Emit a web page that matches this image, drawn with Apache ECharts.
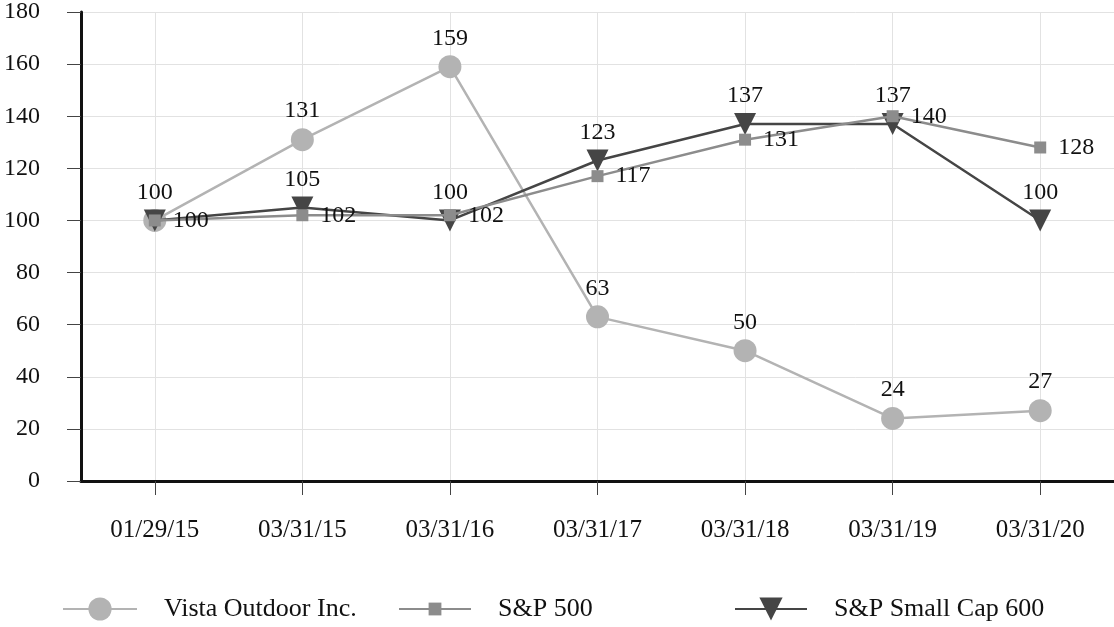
<!DOCTYPE html>
<html>
<head>
<meta charset="utf-8">
<script src="https://cdn.jsdelivr.net/npm/echarts@6/dist/echarts.min.js"></script>
<style>
html,body{margin:0;padding:0;background:#fff;}
#chart{width:1114px;height:627px;}
</style>
</head>
<body>
<div id="chart"></div>
<script>
const categories = ['01/29/15','03/31/15','03/31/16','03/31/17','03/31/18','03/31/19','03/31/20'];
const vista = [100, 131, 159, 63, 50, 24, 27];
const sp500 = [100, 102, 102, 117, 131, 140, 128];
const sp600 = [100, 105, 100, 123, 137, 137, 100];
const yTicks = [0, 20, 40, 60, 80, 100, 120, 140, 160, 180];

const FONT = 'Liberation Serif';
const chart = echarts.init(document.getElementById('chart'));
const legendText = {fontFamily: FONT, fontSize: 26, color: '#111', padding: [0, 0, 0, 22]};
// first Vista label coincides with the Small Cap label; draw it once
const vistaData = vista.map((v, i) => i === 0 ? {value: v, label: {show: false}} : v);
chart.setOption({
  backgroundColor: '#fff',
  animation: false,
  grid: {left: 81, right: 0, top: 11, bottom: 146},
  legend: [
    {data: ['Vista Outdoor Inc.'], left: 62, top: 596, padding: 0, itemWidth: 74, itemHeight: 29, textStyle: legendText},
    {data: ['S&P 500'], left: 398, top: 596, padding: 0, itemWidth: 72, itemHeight: 16, textStyle: legendText},
    {data: ['S&P Small Cap 600'], left: 734, top: 596, padding: 0, itemWidth: 72, itemHeight: 29, textStyle: legendText}
  ],
  xAxis: {
    type: 'category',
    data: categories,
    boundaryGap: true,
    axisLine: {lineStyle: {color: '#111', width: 3}},
    axisTick: {show: true, alignWithLabel: true, length: 14, lineStyle: {color: '#444', width: 1}},
    splitLine: {show: true, alignWithLabel: true, lineStyle: {color: '#e2e2e2', width: 1}},
    axisLabel: {fontFamily: FONT, fontSize: 25, color: '#111', margin: 37}
  },
  yAxis: {
    type: 'value',
    min: yTicks[0],
    max: yTicks[yTicks.length - 1],
    interval: 20,
    axisLine: {show: true, lineStyle: {color: '#111', width: 3}},
    axisTick: {show: true, length: 14, lineStyle: {color: '#444', width: 1}},
    splitLine: {show: true, lineStyle: {color: '#e2e2e2', width: 1}},
    axisLabel: {fontFamily: FONT, fontSize: 24, color: '#111', margin: 41}
  },
  series: [
    {
      name: 'Vista Outdoor Inc.', type: 'line', data: vistaData,
      symbol: 'circle', symbolSize: 23,
      itemStyle: {color: '#b3b3b3'},
      lineStyle: {color: '#b3b3b3', width: 2.5},
      label: {show: true, position: 'top', distance: 5, fontFamily: FONT, fontSize: 24, color: '#111'},
      z: 2
    },
    {
      name: 'S&P 500', type: 'line', data: sp500,
      symbol: 'rect', symbolSize: 12,
      itemStyle: {color: '#8c8c8c'},
      lineStyle: {color: '#8c8c8c', width: 2.5},
      label: {show: true, position: 'right', distance: 12, fontFamily: FONT, fontSize: 24, color: '#111'},
      z: 4
    },
    {
      name: 'S&P Small Cap 600', type: 'line', data: sp600,
      symbol: 'triangle', symbolRotate: 180, symbolSize: 22,
      itemStyle: {color: '#454545'},
      lineStyle: {color: '#454545', width: 2.5},
      label: {show: true, position: 'top', distance: 5, fontFamily: FONT, fontSize: 24, color: '#111'},
      z: 3
    }
  ]
});
</script>
</body>
</html>
